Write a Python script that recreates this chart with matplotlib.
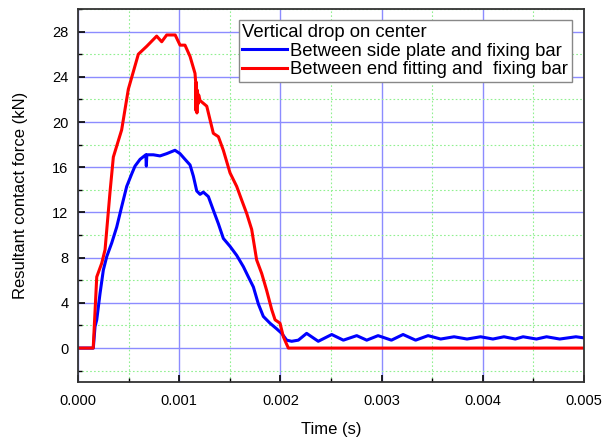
import numpy as np
import matplotlib.pyplot as plt
from matplotlib.ticker import MultipleLocator

plt.rcParams['font.family'] = ['Liberation Sans', 'DejaVu Sans']

# tiempo (s) y fuerza (kN)
t_red = [0.0, 0.000150, 0.000185, 0.000234, 0.000267, 0.000316, 0.000349, 0.000431,
         0.000497, 0.000596, 0.000679, 0.000777, 0.000827, 0.000876, 0.000960, 0.001008,
         0.001057, 0.001107, 0.001156, 0.001162, 0.001166, 0.001170, 0.001175, 0.001180,
         0.001186, 0.001192, 0.001206, 0.001272, 0.001337, 0.001387, 0.001436, 0.001502,
         0.001568, 0.001617, 0.001667, 0.001716, 0.001765, 0.001815, 0.001864, 0.001914,
         0.001947, 0.001996, 0.002029, 0.002078, 0.005]
f_red = [0.0, 0.0, 6.3, 7.5, 8.7, 13.8, 16.9, 19.3,
         22.9, 26.0, 26.7, 27.6, 27.1, 27.7, 27.7, 26.8,
         26.8, 25.8, 24.3, 23.6, 21.0, 23.5, 20.8, 22.8,
         21.6, 22.4, 21.9, 21.4, 19.0, 18.7, 17.5, 15.5,
         14.3, 13.1, 11.9, 10.5, 7.8, 6.6, 5.1, 3.4,
         2.5, 2.2, 1.0, 0.0, 0.0]

t_blue = [0.0, 0.000151, 0.000168, 0.000185, 0.000217, 0.000250, 0.000284, 0.000333,
          0.000382, 0.000431, 0.000481, 0.000530, 0.000563, 0.000613, 0.000670, 0.000675,
          0.000680, 0.000744, 0.000810, 0.000876, 0.000958, 0.001008, 0.001057, 0.001107,
          0.001140, 0.001173, 0.001206, 0.001238, 0.001288, 0.001337, 0.001387, 0.001436,
          0.001502, 0.001568, 0.001634, 0.001683, 0.001733, 0.001782, 0.001831, 0.001897,
          0.001963, 0.002013, 0.002062, 0.002111, 0.002177, 0.002259, 0.002374, 0.002507,
          0.002622, 0.002754, 0.002853, 0.002965, 0.003097, 0.003212, 0.003336, 0.003459,
          0.003584, 0.003716, 0.003844, 0.003978, 0.004100, 0.004209, 0.004321, 0.004398,
          0.004530, 0.004630, 0.004760, 0.004920, 0.005]
f_blue = [0.0, 0.0, 1.9, 2.5, 4.8, 6.9, 8.1, 9.3,
          10.7, 12.5, 14.3, 15.4, 16.1, 16.7, 17.1, 16.1,
          17.1, 17.1, 17.0, 17.2, 17.5, 17.2, 16.7, 16.2,
          15.2, 13.9, 13.6, 13.8, 13.4, 12.2, 11.0, 9.7,
          9.0, 8.2, 7.2, 6.3, 5.4, 3.9, 2.8, 2.2,
          1.7, 1.3, 0.7, 0.6, 0.7, 1.3, 0.6, 1.2,
          0.7, 1.1, 0.7, 1.1, 0.7, 1.2, 0.7, 1.1,
          0.8, 1.0, 0.8, 1.0, 0.8, 1.0, 0.8, 1.0,
          0.8, 1.0, 0.8, 1.0, 0.9]

fig = plt.figure(figsize=(6.03, 4.38), dpi=100)
ax = fig.add_axes([0.1294, 0.1279, 0.8391, 0.8516])

ax.plot(t_blue, f_blue, color='#0000ff', lw=2.2, label='Between side plate and fixing bar')
ax.plot(t_red, f_red, color='#ff0000', lw=2.2, label='Between end fitting and  fixing bar')

ax.set_xlim(0, 0.005)
ax.set_ylim(-3, 30)
ax.xaxis.set_major_locator(MultipleLocator(0.001))
ax.xaxis.set_minor_locator(MultipleLocator(0.0005))
ax.yaxis.set_major_locator(MultipleLocator(4))
ax.yaxis.set_minor_locator(MultipleLocator(2))
ax.set_xticks(np.arange(0, 0.0051, 0.001))
ax.set_xticklabels(['0.000', '0.001', '0.002', '0.003', '0.004', '0.005'])
ax.set_yticks(np.arange(0, 29, 4))

# rejilla mayor azul, menor verde punteada
ax.grid(which='major', color='#8c8cff', lw=1.0)
ax.grid(which='minor', color='#90f090', lw=0.8, ls=(0, (1.5, 2)))
ax.set_axisbelow(True)

ax.tick_params(which='both', direction='in', top=False, right=False, labelsize=10.5)
ax.tick_params(axis='x', pad=9)
ax.tick_params(axis='y', pad=7)
ax.tick_params(which='major', length=5, width=1.2)
ax.tick_params(which='minor', length=3, width=1.0)
for s in ax.spines.values():
    s.set_linewidth(1.3)
    s.set_color('#333333')

ax.set_xlabel('Time (s)', fontsize=12, labelpad=10)
ax.set_ylabel('Resultant contact force (kN)', fontsize=12, labelpad=17)

leg = ax.legend(title='Vertical drop on center', loc='upper right',
                bbox_to_anchor=(0.976, 0.9705), borderaxespad=0, fontsize=13.3,
                title_fontsize=13.3, fancybox=False, framealpha=1, edgecolor='#888888',
                alignment='left', handlelength=2.4, handletextpad=0.2,
                borderpad=0.2, labelspacing=0.1)
leg.get_frame().set_linewidth(1.0)

fig.savefig('out.png', dpi=100)
